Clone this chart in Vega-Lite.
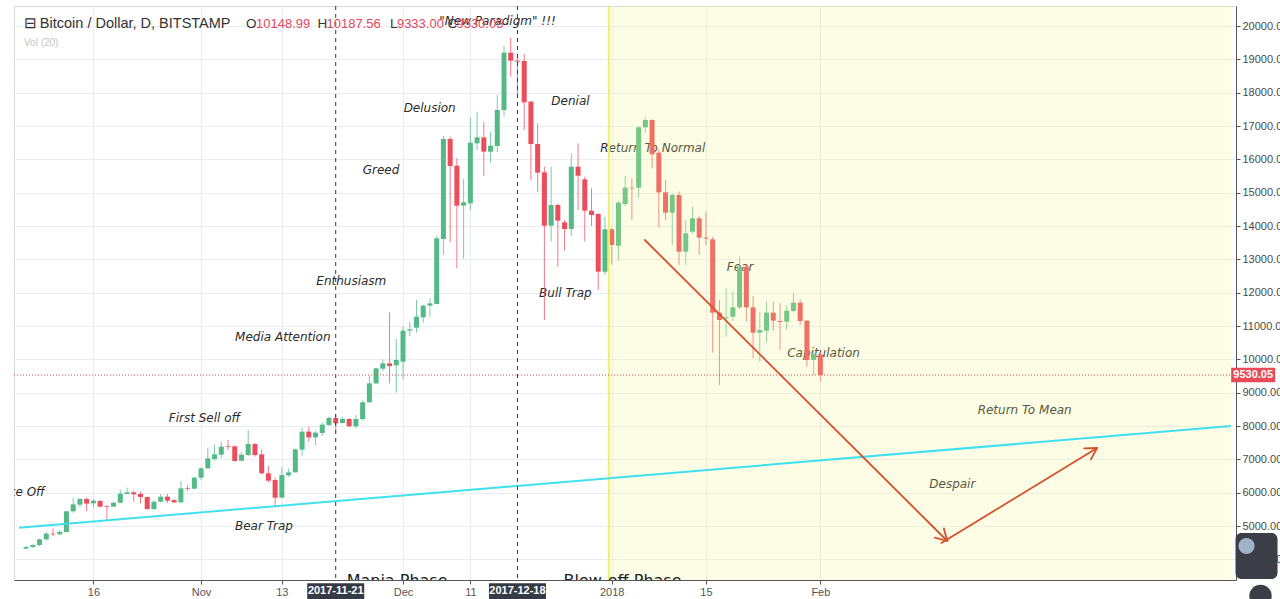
{
  "$schema": "https://vega.github.io/schema/vega-lite/v6.json",
  "width": 1222,
  "height": 574,
  "autosize": {"type": "none"},
  "padding": {"left": 14, "top": 6, "right": 44, "bottom": 19},
  "background": "#ffffff",
  "config": {
    "view": {"stroke": "#d5d8dc", "strokeWidth": 1},
    "axis": {"labelOverlap": false},
    "axisY": {"labelOverlap": false, "labelBound": false},
    "axisQuantitative": {"labelOverlap": false}
  },
  "datasets": {
    "candles": [
      {"t":"2017-10-06","o":4320,"h":4400,"l":4300,"c":4370},
      {"t":"2017-10-07","o":4370,"h":4450,"l":4340,"c":4430},
      {"t":"2017-10-08","o":4430,"h":4620,"l":4400,"c":4600},
      {"t":"2017-10-09","o":4600,"h":4830,"l":4560,"c":4770},
      {"t":"2017-10-10","o":4770,"h":4930,"l":4700,"c":4750},
      {"t":"2017-10-11","o":4750,"h":4880,"l":4730,"c":4820},
      {"t":"2017-10-12","o":4820,"h":5450,"l":4810,"c":5440},
      {"t":"2017-10-13","o":5440,"h":5850,"l":5400,"c":5650},
      {"t":"2017-10-14","o":5640,"h":5840,"l":5560,"c":5810},
      {"t":"2017-10-15","o":5810,"h":5850,"l":5450,"c":5670},
      {"t":"2017-10-16","o":5680,"h":5810,"l":5560,"c":5760},
      {"t":"2017-10-17","o":5750,"h":5780,"l":5560,"c":5580},
      {"t":"2017-10-18","o":5600,"h":5620,"l":5180,"c":5580},
      {"t":"2017-10-19","o":5580,"h":5720,"l":5560,"c":5700},
      {"t":"2017-10-20","o":5700,"h":6100,"l":5680,"c":5970},
      {"t":"2017-10-21","o":5960,"h":6150,"l":5950,"c":6010},
      {"t":"2017-10-22","o":6010,"h":6060,"l":5730,"c":5950},
      {"t":"2017-10-23","o":5960,"h":6030,"l":5680,"c":5870},
      {"t":"2017-10-24","o":5870,"h":5880,"l":5490,"c":5510},
      {"t":"2017-10-25","o":5510,"h":5760,"l":5480,"c":5730},
      {"t":"2017-10-26","o":5730,"h":5960,"l":5710,"c":5880},
      {"t":"2017-10-27","o":5880,"h":5960,"l":5690,"c":5760},
      {"t":"2017-10-28","o":5780,"h":5800,"l":5690,"c":5710},
      {"t":"2017-10-29","o":5710,"h":6350,"l":5690,"c":6130},
      {"t":"2017-10-30","o":6140,"h":6230,"l":6040,"c":6120},
      {"t":"2017-10-31","o":6120,"h":6470,"l":6110,"c":6450},
      {"t":"2017-11-01","o":6450,"h":6770,"l":6380,"c":6730},
      {"t":"2017-11-02","o":6730,"h":7350,"l":6720,"c":7030},
      {"t":"2017-11-03","o":7010,"h":7440,"l":6960,"c":7150},
      {"t":"2017-11-04","o":7140,"h":7530,"l":7030,"c":7380},
      {"t":"2017-11-05","o":7390,"h":7580,"l":7280,"c":7370},
      {"t":"2017-11-06","o":7390,"h":7420,"l":6930,"c":6950},
      {"t":"2017-11-07","o":6960,"h":7210,"l":6940,"c":7140},
      {"t":"2017-11-08","o":7130,"h":7880,"l":7100,"c":7460},
      {"t":"2017-11-09","o":7460,"h":7490,"l":7080,"c":7130},
      {"t":"2017-11-10","o":7150,"h":7300,"l":6550,"c":6580},
      {"t":"2017-11-11","o":6580,"h":6800,"l":6300,"c":6360},
      {"t":"2017-11-12","o":6380,"h":6460,"l":5580,"c":5850},
      {"t":"2017-11-13","o":5850,"h":6760,"l":5830,"c":6530},
      {"t":"2017-11-14","o":6520,"h":6720,"l":6470,"c":6610},
      {"t":"2017-11-15","o":6610,"h":7320,"l":6600,"c":7300},
      {"t":"2017-11-16","o":7290,"h":7960,"l":7110,"c":7830},
      {"t":"2017-11-17","o":7830,"h":7980,"l":7530,"c":7660},
      {"t":"2017-11-18","o":7660,"h":7850,"l":7430,"c":7800},
      {"t":"2017-11-19","o":7790,"h":8100,"l":7700,"c":8040},
      {"t":"2017-11-20","o":8030,"h":8280,"l":8000,"c":8240},
      {"t":"2017-11-21","o":8240,"h":8370,"l":7780,"c":8080},
      {"t":"2017-11-22","o":8090,"h":8280,"l":8080,"c":8210},
      {"t":"2017-11-23","o":8210,"h":8240,"l":7970,"c":7990},
      {"t":"2017-11-24","o":7990,"h":8330,"l":7930,"c":8210},
      {"t":"2017-11-25","o":8210,"h":8760,"l":8160,"c":8710},
      {"t":"2017-11-26","o":8710,"h":9500,"l":8710,"c":9280},
      {"t":"2017-11-27","o":9280,"h":9740,"l":9260,"c":9730},
      {"t":"2017-11-28","o":9720,"h":9990,"l":9650,"c":9880},
      {"t":"2017-11-29","o":9880,"h":11410,"l":9280,"c":9800},
      {"t":"2017-11-30","o":9820,"h":10610,"l":9000,"c":9980},
      {"t":"2017-12-01","o":9930,"h":10980,"l":9400,"c":10860},
      {"t":"2017-12-02","o":10860,"h":11110,"l":10690,"c":10900},
      {"t":"2017-12-03","o":10950,"h":11780,"l":10800,"c":11280},
      {"t":"2017-12-04","o":11260,"h":11640,"l":11100,"c":11610},
      {"t":"2017-12-05","o":11610,"h":11830,"l":11280,"c":11680},
      {"t":"2017-12-06","o":11660,"h":13700,"l":11650,"c":13630},
      {"t":"2017-12-07","o":13610,"h":16700,"l":13130,"c":16610},
      {"t":"2017-12-08","o":16610,"h":16680,"l":13510,"c":15800},
      {"t":"2017-12-09","o":15810,"h":16030,"l":12730,"c":14610},
      {"t":"2017-12-10","o":14610,"h":15410,"l":13030,"c":14710},
      {"t":"2017-12-11","o":14680,"h":17250,"l":14480,"c":16500},
      {"t":"2017-12-12","o":16480,"h":17430,"l":16280,"c":16660},
      {"t":"2017-12-13","o":16660,"h":17110,"l":15500,"c":16230},
      {"t":"2017-12-14","o":16230,"h":16830,"l":15900,"c":16410},
      {"t":"2017-12-15","o":16400,"h":17930,"l":16210,"c":17480},
      {"t":"2017-12-16","o":17480,"h":19400,"l":17280,"c":19200},
      {"t":"2017-12-17","o":19200,"h":19650,"l":18480,"c":18960},
      {"t":"2017-12-18","o":18960,"h":19180,"l":17900,"c":18930},
      {"t":"2017-12-19","o":18950,"h":19160,"l":16880,"c":17710},
      {"t":"2017-12-20","o":17730,"h":17750,"l":15380,"c":16460},
      {"t":"2017-12-21","o":16460,"h":17080,"l":15030,"c":15600},
      {"t":"2017-12-22","o":15610,"h":15780,"l":11180,"c":14010},
      {"t":"2017-12-23","o":14010,"h":15780,"l":13530,"c":14630},
      {"t":"2017-12-24","o":14630,"h":14680,"l":12780,"c":14160},
      {"t":"2017-12-25","o":14110,"h":14180,"l":13260,"c":13910},
      {"t":"2017-12-26","o":13910,"h":16180,"l":13700,"c":15780},
      {"t":"2017-12-27","o":15780,"h":16480,"l":14480,"c":15510},
      {"t":"2017-12-28","o":15400,"h":15480,"l":13530,"c":14460},
      {"t":"2017-12-29","o":14460,"h":15130,"l":14000,"c":14330},
      {"t":"2017-12-30","o":14360,"h":14380,"l":12080,"c":12630},
      {"t":"2017-12-31","o":12630,"h":14280,"l":12530,"c":13900},
      {"t":"2018-01-01","o":13900,"h":13950,"l":12850,"c":13430},
      {"t":"2018-01-02","o":13410,"h":14750,"l":12950,"c":14700},
      {"t":"2018-01-03","o":14660,"h":15500,"l":14600,"c":15150},
      {"t":"2018-01-04","o":15150,"h":15430,"l":14180,"c":15130},
      {"t":"2018-01-05","o":15150,"h":17000,"l":14850,"c":16960},
      {"t":"2018-01-06","o":16960,"h":17260,"l":16800,"c":17180},
      {"t":"2018-01-07","o":17180,"h":17200,"l":15730,"c":16150},
      {"t":"2018-01-08","o":16200,"h":16300,"l":13950,"c":15010},
      {"t":"2018-01-09","o":15010,"h":15380,"l":14180,"c":14400},
      {"t":"2018-01-10","o":14400,"h":14980,"l":13430,"c":14930},
      {"t":"2018-01-11","o":14930,"h":15030,"l":12830,"c":13230},
      {"t":"2018-01-12","o":13230,"h":14180,"l":12830,"c":13780},
      {"t":"2018-01-13","o":13830,"h":14580,"l":13780,"c":14230},
      {"t":"2018-01-14","o":14230,"h":14300,"l":13130,"c":13650},
      {"t":"2018-01-15","o":13650,"h":14430,"l":13430,"c":13620},
      {"t":"2018-01-16","o":13600,"h":13680,"l":10200,"c":11400},
      {"t":"2018-01-17","o":11400,"h":11780,"l":9230,"c":11180},
      {"t":"2018-01-18","o":11230,"h":12130,"l":10680,"c":11260},
      {"t":"2018-01-19","o":11280,"h":12030,"l":11150,"c":11560},
      {"t":"2018-01-20","o":11560,"h":13080,"l":11500,"c":12780},
      {"t":"2018-01-21","o":12780,"h":12830,"l":11130,"c":11560},
      {"t":"2018-01-22","o":11560,"h":11900,"l":10030,"c":10800},
      {"t":"2018-01-23","o":10800,"h":11420,"l":9930,"c":10880},
      {"t":"2018-01-24","o":10860,"h":11730,"l":10500,"c":11400},
      {"t":"2018-01-25","o":11400,"h":11730,"l":10860,"c":11160},
      {"t":"2018-01-26","o":11150,"h":11680,"l":10280,"c":11120},
      {"t":"2018-01-27","o":11130,"h":11620,"l":10880,"c":11460},
      {"t":"2018-01-28","o":11450,"h":12000,"l":11400,"c":11700},
      {"t":"2018-01-29","o":11700,"h":11800,"l":11030,"c":11150},
      {"t":"2018-01-30","o":11160,"h":11180,"l":9780,"c":9980},
      {"t":"2018-01-31","o":9980,"h":10250,"l":9530,"c":10150},
      {"t":"2018-02-01","o":10148.99,"h":10187.56,"l":9333,"c":9530.05}
    ],
    "notes": [
      {"t":"2017-12-15T01:00:00Z","p":20150,"label":"\"New Paradigm\" !!!"},
      {"t":"2017-12-04T23:00:00Z","p":17540,"label":"Delusion"},
      {"t":"2017-12-25T21:00:00Z","p":17750,"label":"Denial"},
      {"t":"2017-11-27T17:30:00Z","p":15680,"label":"Greed"},
      {"t":"2018-01-07T02:30:00Z","p":16340,"label":"Return To Normal"},
      {"t":"2017-11-23T07:30:00Z","p":12350,"label":"Enthusiasm"},
      {"t":"2017-12-25T03:00:00Z","p":11990,"label":"Bull Trap"},
      {"t":"2018-01-20T01:40:00Z","p":12770,"label":"Fear"},
      {"t":"2017-11-13T03:20:00Z","p":10670,"label":"Media Attention"},
      {"t":"2018-02-01T11:20:00Z","p":10190,"label":"Capitulation"},
      {"t":"2017-11-01T12:00:00Z","p":8240,"label":"First Sell off"},
      {"t":"2018-03-03T08:25:00Z","p":8480,"label":"Return To Mean"},
      {"t":"2018-02-20T14:25:00Z","p":6260,"label":"Despair"},
      {"t":"2017-11-10T08:10:00Z","p":5000,"label":"Bear Trap"}
    ],
    "edgeNote": [
      {"t":"2017-10-08T18:43:00Z","p":6020,"label":"Take Off"}
    ],
    "phases": [
      {"t":"2017-11-22T15:00:00Z","label":"Mania Phase"},
      {"t":"2017-12-24T20:00:00Z","label":"Blow-off Phase"}
    ],
    "support": [
      {"t":"2017-10-04T22:48:00Z","p":4949},
      {"t":"2018-04-03T00:00:00Z","p":8000}
    ],
    "arrows": [
      {"seg":"a1","k":0,"t":"2018-01-05T22:05:00Z","p":13580},
      {"seg":"a1","k":1,"t":"2018-02-19T20:38:00Z","p":4550},
      {"seg":"h1","k":0,"t":"2018-02-19T08:10:00Z","p":4925},
      {"seg":"h1","k":1,"t":"2018-02-19T20:38:00Z","p":4550},
      {"seg":"h1","k":2,"t":"2018-02-18T00:00:00Z","p":4649},
      {"seg":"a2","k":0,"t":"2018-02-18T23:31:00Z","p":4490},
      {"seg":"a2","k":1,"t":"2018-03-14T02:38:00Z","p":7340},
      {"seg":"h2","k":0,"t":"2018-03-12T04:34:00Z","p":7331},
      {"seg":"h2","k":1,"t":"2018-03-14T02:38:00Z","p":7340},
      {"seg":"h2","k":2,"t":"2018-03-13T04:19:00Z","p":6998}
    ],
    "events": [
      {"t":"2017-11-21","lbl":"2017-11-21"},
      {"t":"2017-12-18","lbl":"2017-12-18"}
    ],
    "shade": [
      {"t0":"2017-12-31T14:00:00Z","t1":"2018-04-03T00:00:00Z"}
    ],
    "lastPrice": [
      {"t":"2018-04-06T07:00:00Z","p":9530.05,"label":"9530.05"}
    ],
    "widget": [
      {"t":"2018-04-06T19:00:00Z"}
    ],
    "hdrDark": [
      {"t":"2017-10-05T16:28:00Z","label":"⊟"},
      {"t":"2017-10-08T01:03:00Z","label":"Bitcoin / Dollar, D, BITSTAMP"}
    ],
    "hdrKeys": [
      {"t":"2017-11-07T16:34:00Z","label":"O"},
      {"t":"2017-11-18T07:12:00Z","label":"H"},
      {"t":"2017-11-29T01:12:00Z","label":"L"},
      {"t":"2017-12-07T14:24:00Z","label":"C"}
    ],
    "hdrRed": [
      {"t":"2017-11-09T03:54:00Z","label":"10148.99"},
      {"t":"2017-11-19T15:07:00Z","label":"10187.56"},
      {"t":"2017-11-30T02:10:00Z","label":"9333.00"},
      {"t":"2017-12-08T22:19:00Z","label":"9530.05"}
    ],
    "vol": [
      {"t":"2017-10-05T16:28:00Z","label":"Vol (20)"}
    ]
  },
  "layer": [
    {
      "data": {"name": "notes"},
      "mark": {"type": "text", "font": "DejaVu Sans", "fontStyle": "italic", "fontSize": 12, "color": "#2b2b2b", "align": "center", "baseline": "middle"},
      "encoding": {
        "x": {"field": "t", "type": "temporal",
          "scale": {"type": "utc", "domain": [{"year":2017,"month":10,"date":4,"hours":22,"minutes":48,"utc":true},{"year":2018,"month":4,"date":3,"utc":true}]},
          "axis": {
            "title": null,
            "values": [
              {"year":2017,"month":10,"date":16,"utc":true},
              {"year":2017,"month":11,"date":1,"utc":true},
              {"year":2017,"month":11,"date":13,"utc":true},
              {"year":2017,"month":12,"date":1,"utc":true},
              {"year":2017,"month":12,"date":11,"utc":true},
              {"year":2018,"month":1,"date":1,"utc":true},
              {"year":2018,"month":1,"date":15,"utc":true},
              {"year":2018,"month":2,"date":1,"utc":true}
            ],
            "labelExpr": "utcdate(datum.value) == 1 ? (utcmonth(datum.value) == 0 ? utcFormat(datum.value, '%Y') : utcFormat(datum.value, '%b')) : utcFormat(datum.value, '%-d')",
            "labelOverlap": false,
            "grid": true, "gridColor": "#e9edf1", "gridWidth": 1,
            "domainColor": "#555555", "tickColor": "#555555", "tickSize": 4,
            "labelColor": "#555555", "labelFont": "Liberation Sans", "labelFontSize": 11, "labelPadding": 2
          }
        },
        "y": {"field": "p", "type": "quantitative",
          "scale": {"domain": [3380, 20600], "nice": false, "zero": false},
          "axis": {
            "title": null, "orient": "right",
            "values": [4000,5000,6000,7000,8000,9000,10000,11000,12000,13000,14000,15000,16000,17000,18000,19000,20000],
            "tickCount": 17,
            "format": ".2f",
            "labelOverlap": false,
            "grid": true, "gridColor": "#e9edf1", "gridWidth": 1,
            "domainColor": "#555555", "tickColor": "#555555", "tickSize": 4,
            "labelColor": "#4a4a4a", "labelFont": "Liberation Sans", "labelFontSize": 11, "labelPadding": 2
          }
        },
        "text": {"field": "label"}
      }
    },
    {
      "data": {"name": "edgeNote"},
      "mark": {"type": "text", "font": "DejaVu Sans", "fontStyle": "italic", "fontSize": 12, "color": "#2b2b2b", "align": "right", "baseline": "middle", "clip": true},
      "encoding": {
        "x": {"field": "t", "type": "temporal", "scale": {"type": "utc", "domain": [{"year":2017,"month":10,"date":4,"hours":22,"minutes":48,"utc":true},{"year":2018,"month":4,"date":3,"utc":true}]}},
        "y": {"field": "p", "type": "quantitative", "scale": {"domain": [3380, 20600], "nice": false, "zero": false}},
        "text": {"field": "label"}
      }
    },
    {
      "data": {"name": "candles"},
      "mark": {"type": "rule", "strokeWidth": 1, "opacity": 0.75},
      "encoding": {
        "x": {"field": "t", "type": "temporal", "scale": {"type": "utc", "domain": [{"year":2017,"month":10,"date":4,"hours":22,"minutes":48,"utc":true},{"year":2018,"month":4,"date":3,"utc":true}]}},
        "y": {"field": "l", "type": "quantitative", "scale": {"domain": [3380, 20600], "nice": false, "zero": false}},
        "y2": {"field": "h"},
        "color": {"condition": {"test": "datum.c >= datum.o", "value": "#53b987"}, "value": "#eb4d5c"}
      }
    },
    {
      "data": {"name": "candles"},
      "mark": {"type": "bar", "size": 5},
      "encoding": {
        "x": {"field": "t", "type": "temporal", "scale": {"type": "utc", "domain": [{"year":2017,"month":10,"date":4,"hours":22,"minutes":48,"utc":true},{"year":2018,"month":4,"date":3,"utc":true}]}},
        "y": {"field": "o", "type": "quantitative", "scale": {"domain": [3380, 20600], "nice": false, "zero": false}},
        "y2": {"field": "c"},
        "color": {"condition": {"test": "datum.c >= datum.o", "value": "#53b987"}, "value": "#eb4d5c"}
      }
    },
    {
      "data": {"name": "shade"},
      "mark": {"type": "rect", "color": "#f5f58a", "opacity": 0.22},
      "encoding": {
        "x": {"field": "t0", "type": "temporal", "scale": {"type": "utc", "domain": [{"year":2017,"month":10,"date":4,"hours":22,"minutes":48,"utc":true},{"year":2018,"month":4,"date":3,"utc":true}]}},
        "x2": {"field": "t1"},
        "y": {"datum": 3380, "type": "quantitative", "scale": {"domain": [3380, 20600], "nice": false, "zero": false}},
        "y2": {"datum": 20600}
      }
    },
    {
      "data": {"name": "shade"},
      "mark": {"type": "rule", "color": "#eef26a", "strokeWidth": 2},
      "encoding": {
        "x": {"field": "t0", "type": "temporal", "scale": {"type": "utc", "domain": [{"year":2017,"month":10,"date":4,"hours":22,"minutes":48,"utc":true},{"year":2018,"month":4,"date":3,"utc":true}]}}
      }
    },
    {
      "data": {"name": "support"},
      "mark": {"type": "line", "color": "#3fe0ef", "strokeWidth": 2, "clip": true},
      "encoding": {
        "x": {"field": "t", "type": "temporal", "scale": {"type": "utc", "domain": [{"year":2017,"month":10,"date":4,"hours":22,"minutes":48,"utc":true},{"year":2018,"month":4,"date":3,"utc":true}]}},
        "y": {"field": "p", "type": "quantitative", "scale": {"domain": [3380, 20600], "nice": false, "zero": false}}
      }
    },
    {
      "data": {"name": "arrows"},
      "mark": {"type": "line", "color": "#d6502c", "strokeWidth": 1.8, "strokeCap": "round", "strokeJoin": "round"},
      "encoding": {
        "x": {"field": "t", "type": "temporal", "scale": {"type": "utc", "domain": [{"year":2017,"month":10,"date":4,"hours":22,"minutes":48,"utc":true},{"year":2018,"month":4,"date":3,"utc":true}]}},
        "y": {"field": "p", "type": "quantitative", "scale": {"domain": [3380, 20600], "nice": false, "zero": false}},
        "detail": {"field": "seg"},
        "order": {"field": "k"}
      }
    },
    {
      "data": {"name": "events"},
      "mark": {"type": "rule", "color": "#3a3a3a", "strokeWidth": 1, "strokeDash": [4, 4]},
      "encoding": {
        "x": {"field": "t", "type": "temporal", "scale": {"type": "utc", "domain": [{"year":2017,"month":10,"date":4,"hours":22,"minutes":48,"utc":true},{"year":2018,"month":4,"date":3,"utc":true}]}}
      }
    },
    {
      "data": {"name": "lastPrice"},
      "mark": {"type": "rule", "color": "#e0434d", "strokeWidth": 1, "strokeDash": [1, 2]},
      "encoding": {
        "y": {"field": "p", "type": "quantitative", "scale": {"domain": [3380, 20600], "nice": false, "zero": false}}
      }
    },
    {
      "data": {"name": "phases"},
      "mark": {"type": "text", "font": "DejaVu Sans", "fontSize": 16, "color": "#222222", "align": "left", "baseline": "alphabetic", "clip": true},
      "encoding": {
        "x": {"field": "t", "type": "temporal", "scale": {"type": "utc", "domain": [{"year":2017,"month":10,"date":4,"hours":22,"minutes":48,"utc":true},{"year":2018,"month":4,"date":3,"utc":true}]}},
        "y": {"datum": 3200, "type": "quantitative", "scale": {"domain": [3380, 20600], "nice": false, "zero": false}},
        "text": {"field": "label"}
      }
    },
    {
      "data": {"name": "hdrDark"},
      "mark": {"type": "text", "font": "Liberation Sans", "fontSize": 14.5, "color": "#333333", "align": "left", "baseline": "middle"},
      "encoding": {
        "x": {"field": "t", "type": "temporal", "scale": {"type": "utc", "domain": [{"year":2017,"month":10,"date":4,"hours":22,"minutes":48,"utc":true},{"year":2018,"month":4,"date":3,"utc":true}]}},
        "y": {"datum": 20060, "type": "quantitative", "scale": {"domain": [3380, 20600], "nice": false, "zero": false}},
        "text": {"field": "label"}
      }
    },
    {
      "data": {"name": "hdrKeys"},
      "mark": {"type": "text", "font": "Liberation Sans", "fontSize": 13.5, "color": "#333333", "align": "left", "baseline": "middle"},
      "encoding": {
        "x": {"field": "t", "type": "temporal", "scale": {"type": "utc", "domain": [{"year":2017,"month":10,"date":4,"hours":22,"minutes":48,"utc":true},{"year":2018,"month":4,"date":3,"utc":true}]}},
        "y": {"datum": 20060, "type": "quantitative", "scale": {"domain": [3380, 20600], "nice": false, "zero": false}},
        "text": {"field": "label"}
      }
    },
    {
      "data": {"name": "hdrRed"},
      "mark": {"type": "text", "font": "Liberation Sans", "fontSize": 13, "color": "#e2475b", "align": "left", "baseline": "middle"},
      "encoding": {
        "x": {"field": "t", "type": "temporal", "scale": {"type": "utc", "domain": [{"year":2017,"month":10,"date":4,"hours":22,"minutes":48,"utc":true},{"year":2018,"month":4,"date":3,"utc":true}]}},
        "y": {"datum": 20060, "type": "quantitative", "scale": {"domain": [3380, 20600], "nice": false, "zero": false}},
        "text": {"field": "label"}
      }
    },
    {
      "data": {"name": "vol"},
      "mark": {"type": "text", "font": "Liberation Sans", "fontSize": 10, "color": "#c4c4c4", "align": "left", "baseline": "middle"},
      "encoding": {
        "x": {"field": "t", "type": "temporal", "scale": {"type": "utc", "domain": [{"year":2017,"month":10,"date":4,"hours":22,"minutes":48,"utc":true},{"year":2018,"month":4,"date":3,"utc":true}]}},
        "y": {"datum": 19490, "type": "quantitative", "scale": {"domain": [3380, 20600], "nice": false, "zero": false}},
        "text": {"field": "label"}
      }
    },
    {
      "data": {"name": "events"},
      "mark": {"type": "bar", "size": 57, "color": "#363a45"},
      "encoding": {
        "x": {"field": "t", "type": "temporal", "scale": {"type": "utc", "domain": [{"year":2017,"month":10,"date":4,"hours":22,"minutes":48,"utc":true},{"year":2018,"month":4,"date":3,"utc":true}]}},
        "y": {"datum": 3280, "type": "quantitative", "scale": {"domain": [3380, 20600], "nice": false, "zero": false}},
        "y2": {"datum": 2780}
      }
    },
    {
      "data": {"name": "events"},
      "mark": {"type": "text", "font": "Liberation Sans", "fontSize": 11, "fontWeight": "bold", "color": "#ffffff", "align": "center", "baseline": "middle"},
      "encoding": {
        "x": {"field": "t", "type": "temporal", "scale": {"type": "utc", "domain": [{"year":2017,"month":10,"date":4,"hours":22,"minutes":48,"utc":true},{"year":2018,"month":4,"date":3,"utc":true}]}},
        "y": {"datum": 3050, "type": "quantitative", "scale": {"domain": [3380, 20600], "nice": false, "zero": false}},
        "text": {"field": "lbl"}
      }
    },
    {
      "data": {"name": "lastPrice"},
      "mark": {"type": "bar", "size": 44, "color": "#e84a57"},
      "encoding": {
        "x": {"field": "t", "type": "temporal", "scale": {"type": "utc", "domain": [{"year":2017,"month":10,"date":4,"hours":22,"minutes":48,"utc":true},{"year":2018,"month":4,"date":3,"utc":true}]}},
        "y": {"datum": 9750, "type": "quantitative", "scale": {"domain": [3380, 20600], "nice": false, "zero": false}},
        "y2": {"datum": 9310}
      }
    },
    {
      "data": {"name": "lastPrice"},
      "mark": {"type": "text", "font": "Liberation Sans", "fontSize": 11, "fontWeight": "bold", "color": "#ffffff", "align": "center", "baseline": "middle"},
      "encoding": {
        "x": {"field": "t", "type": "temporal", "scale": {"type": "utc", "domain": [{"year":2017,"month":10,"date":4,"hours":22,"minutes":48,"utc":true},{"year":2018,"month":4,"date":3,"utc":true}]}},
        "y": {"field": "p", "type": "quantitative", "scale": {"domain": [3380, 20600], "nice": false, "zero": false}},
        "text": {"field": "label"}
      }
    },
    {
      "data": {"name": "widget"},
      "mark": {"type": "bar", "size": 42, "color": "#3b3e46", "cornerRadius": 6},
      "encoding": {
        "x": {"field": "t", "type": "temporal", "scale": {"type": "utc", "domain": [{"year":2017,"month":10,"date":4,"hours":22,"minutes":48,"utc":true},{"year":2018,"month":4,"date":3,"utc":true}]}},
        "y": {"datum": 4790, "type": "quantitative", "scale": {"domain": [3380, 20600], "nice": false, "zero": false}},
        "y2": {"datum": 3410}
      }
    },
    {
      "data": {"name": "widget"},
      "mark": {"type": "point", "shape": "circle", "filled": true, "size": 260, "color": "#9fb2c6", "opacity": 1, "xOffset": -10},
      "encoding": {
        "x": {"field": "t", "type": "temporal", "scale": {"type": "utc", "domain": [{"year":2017,"month":10,"date":4,"hours":22,"minutes":48,"utc":true},{"year":2018,"month":4,"date":3,"utc":true}]}},
        "y": {"datum": 4400, "type": "quantitative", "scale": {"domain": [3380, 20600], "nice": false, "zero": false}}
      }
    },
    {
      "data": {"name": "widget"},
      "mark": {"type": "point", "shape": "circle", "filled": true, "size": 500, "color": "#3b3e46", "opacity": 1, "xOffset": 4},
      "encoding": {
        "x": {"field": "t", "type": "temporal", "scale": {"type": "utc", "domain": [{"year":2017,"month":10,"date":4,"hours":22,"minutes":48,"utc":true},{"year":2018,"month":4,"date":3,"utc":true}]}},
        "y": {"datum": 2900, "type": "quantitative", "scale": {"domain": [3380, 20600], "nice": false, "zero": false}}
      }
    }
  ]
}
